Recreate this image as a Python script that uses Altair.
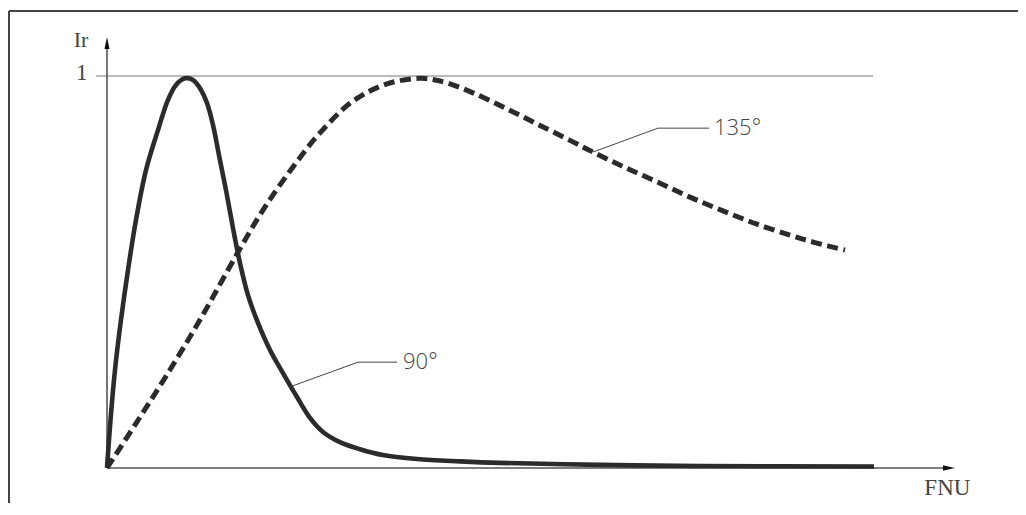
import altair as alt
import pandas as pd

# ---- data (FNU in arbitrary units, Ir relative intensity) ----
fnu_90 = [0.0, 0.413, 0.943, 1.651, 2.476, 3.420, 4.599, 6.014, 7.193, 8.137, 9.198,
          10.142, 10.967, 11.792, 12.500, 13.208, 14.033, 14.858, 15.684, 16.627,
          17.807, 19.222, 20.755, 22.406, 23.939, 25.472, 27.476, 29.835, 32.547,
          36.557, 41.627, 46.344, 58.137, 69.929, 90.45]
ir_90 = [0.0, 0.122, 0.250, 0.378, 0.505, 0.633, 0.760, 0.862, 0.939, 0.977, 0.994,
         0.990, 0.969, 0.931, 0.875, 0.798, 0.709, 0.612, 0.523, 0.441,
         0.370, 0.301, 0.242, 0.181, 0.128, 0.092, 0.066, 0.048, 0.033,
         0.023, 0.017, 0.013, 0.008, 0.005, 0.004]

fnu_135 = [0.0, 3.302, 6.840, 10.967, 15.330, 18.396, 21.934, 25.118, 29.009, 33.019,
           36.910, 38.679, 40.448, 43.160, 47.170, 51.061, 54.953, 57.311, 60.849,
           64.858, 68.750, 72.642, 76.651, 80.542, 83.491, 87.03]
ir_135 = [0.0, 0.110, 0.230, 0.378, 0.546, 0.658, 0.768, 0.855, 0.936, 0.980,
          0.994, 0.990, 0.980, 0.957, 0.916, 0.874, 0.832, 0.806, 0.769,
          0.730, 0.691, 0.656, 0.622, 0.594, 0.575, 0.556]

label_text = ["90°", "135°"]
label_x = [34.91, 71.58]
label_y = [0.270, 0.867]

leader_id = ["90°", "90°", "90°", "135°", "135°", "135°"]
leader_order = [0, 1, 2, 0, 1, 2]
leader_x = [21.58, 29.6, 34.2, 57.31, 64.98, 71.0]
leader_y = [0.207, 0.270, 0.270, 0.806, 0.867, 0.867]

X_DOMAIN = [-11.674, 107.43]
Y_DOMAIN = [-0.0893, 1.1735]

INK = "#2b2b2b"
AXIS = "#555555"
TXT = "#444444"

xs = alt.Scale(domain=X_DOMAIN, nice=False, zero=False)
ys = alt.Scale(domain=Y_DOMAIN, nice=False, zero=False)


def X(f="x"):
    return alt.X(f"{f}:Q", scale=xs, axis=None)


def Y(f="y"):
    return alt.Y(f"{f}:Q", scale=ys, axis=None)


df90 = pd.DataFrame({"x": fnu_90, "y": ir_90})
df135 = pd.DataFrame({"x": fnu_135, "y": ir_135})

line90 = alt.Chart(df90).mark_line(
    color=INK, strokeWidth=4.6, interpolate="catmull-rom", strokeCap="butt", strokeJoin="round"
).encode(x=X(), y=Y())

line135 = alt.Chart(df135).mark_line(
    color=INK, strokeWidth=5, interpolate="catmull-rom", strokeDash=[11, 5.5], strokeCap="butt"
).encode(x=X(), y=Y())

# reference line at Ir = 1
ref = alt.Chart(pd.DataFrame({"x": [-1.3], "x2": [90.33], "y": [1.0]})).mark_rule(
    color="#777777", strokeWidth=1.2
).encode(x=X(), x2="x2:Q", y=Y())

# axes
yaxis = alt.Chart(pd.DataFrame({"x": [0.0], "y": [0.0], "y2": [1.07]})).mark_rule(
    color=AXIS, strokeWidth=1.6
).encode(x=X(), y=Y(), y2="y2:Q")
xaxis = alt.Chart(pd.DataFrame({"x": [0.0], "x2": [98.9], "y": [0.0]})).mark_rule(
    color=AXIS, strokeWidth=1.6
).encode(x=X(), x2="x2:Q", y=Y())

up_arrow = alt.Chart(pd.DataFrame({"x": [0.0], "y": [1.084]})).mark_point(
    shape="M0,-1L0.42,1L-0.42,1Z", filled=True, size=144, color="#111111", opacity=1
).encode(x=X(), y=Y())
right_arrow = alt.Chart(pd.DataFrame({"x": [99.29], "y": [0.0]})).mark_point(
    shape="M1,0L-1,0.45L-1,-0.45Z", filled=True, size=144, color="#111111", opacity=1
).encode(x=X(), y=Y())

# leaders and curve labels
leaders = alt.Chart(pd.DataFrame({"x": leader_x, "y": leader_y, "id": leader_id,
                                  "o": leader_order})).mark_line(
    color=TXT, strokeWidth=1
).encode(x=X(), y=Y(), detail="id:N", order="o:Q")

labels = alt.Chart(pd.DataFrame({"x": label_x, "y": label_y, "t": label_text})).mark_text(
    font="Open Sans", fontSize=22, fontWeight=300, color=TXT, align="left", baseline="middle"
).encode(x=X(), y=Y(), text="t:N")

# axis titles
ir_lab = alt.Chart(pd.DataFrame({"x": [-3.07], "y": [1.092], "t": ["Ir"]})).mark_text(
    font="Liberation Serif", fontSize=22, color=TXT, align="center", baseline="middle"
).encode(x=X(), y=Y(), text="t:N")
one_lab = alt.Chart(pd.DataFrame({"x": [-2.3], "y": [1.008], "t": ["1"]})).mark_text(
    font="Liberation Serif", fontSize=23, color=TXT, align="right", baseline="middle"
).encode(x=X(), y=Y(), text="t:N")
fnu_lab = alt.Chart(pd.DataFrame({"x": [99.1], "y": [-0.052], "t": ["FNU"]})).mark_text(
    font="Liberation Serif", fontSize=23, color=TXT, align="center", baseline="middle"
).encode(x=X(), y=Y(), text="t:N")

# frame (top and left edges)
frame_top = alt.Chart(pd.DataFrame({"a": [0]})).mark_rule(color="#444444", strokeWidth=2).encode(
    x=alt.value(1), x2=alt.value(1010), y=alt.value(3)
)
frame_left = alt.Chart(pd.DataFrame({"a": [0]})).mark_rule(color="#444444", strokeWidth=2).encode(
    x=alt.value(1), y=alt.value(3), y2=alt.value(495)
)

chart = alt.layer(
    frame_top, frame_left, ref, xaxis, yaxis, up_arrow, right_arrow,
    line135, line90, leaders, labels, ir_lab, one_lab, fnu_lab
).properties(
    width=1010, height=495, padding=0,
    autosize=alt.AutoSizeParams(type="none"),
    background="white",
).configure_view(stroke=None)

chart.save("out.html", embed_options={"renderer": "svg", "actions": False})
